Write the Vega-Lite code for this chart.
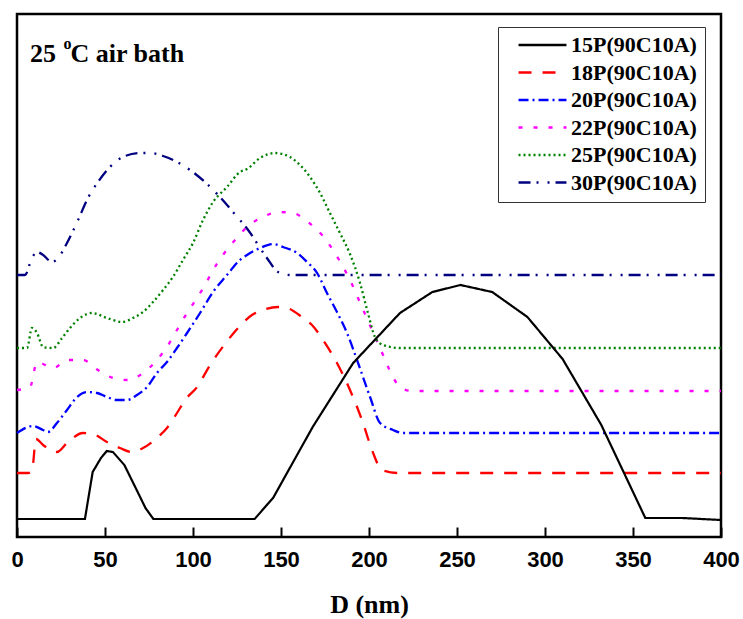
{
  "$schema": "https://vega.github.io/schema/vega-lite/v6.json",
  "width": 704,
  "height": 523,
  "autosize": {"type": "none"},
  "padding": {"left": 17, "top": 14, "right": 22, "bottom": 82},
  "background": "white",
  "config": {
    "view": {"stroke": "black", "strokeWidth": 2.5},
    "axis": {"grid": false}
  },
  "datasets": {
    "curves": [
      {"s": "15P(90C10A)", "D": 0, "v": 18}, {"s": "15P(90C10A)", "D": 38.6, "v": 18}, {"s": "15P(90C10A)", "D": 43, "v": 65}, {"s": "15P(90C10A)", "D": 47.7, "v": 79}, {"s": "15P(90C10A)", "D": 51, "v": 86}, {"s": "15P(90C10A)", "D": 54.5, "v": 85}, {"s": "15P(90C10A)", "D": 61, "v": 72}, {"s": "15P(90C10A)", "D": 68, "v": 47}, {"s": "15P(90C10A)", "D": 73, "v": 29}, {"s": "15P(90C10A)", "D": 77.5, "v": 18}, {"s": "15P(90C10A)", "D": 135, "v": 18}, {"s": "15P(90C10A)", "D": 145.5, "v": 39}, {"s": "15P(90C10A)", "D": 168, "v": 110}, {"s": "15P(90C10A)", "D": 191, "v": 174}, {"s": "15P(90C10A)", "D": 217.6, "v": 224}, {"s": "15P(90C10A)", "D": 236, "v": 245}, {"s": "15P(90C10A)", "D": 252, "v": 252}, {"s": "15P(90C10A)", "D": 270, "v": 245}, {"s": "15P(90C10A)", "D": 290, "v": 220}, {"s": "15P(90C10A)", "D": 310, "v": 178}, {"s": "15P(90C10A)", "D": 332, "v": 112}, {"s": "15P(90C10A)", "D": 357, "v": 19}, {"s": "15P(90C10A)", "D": 378, "v": 19}, {"s": "15P(90C10A)", "D": 400, "v": 17},

      {"s": "18P(90C10A)", "D": 0, "v": 64}, {"s": "18P(90C10A)", "D": 6.3, "v": 64}, {"s": "18P(90C10A)", "D": 8.5, "v": 66}, {"s": "18P(90C10A)", "D": 10.8, "v": 98}, {"s": "18P(90C10A)", "D": 14.8, "v": 92}, {"s": "18P(90C10A)", "D": 22.7, "v": 85}, {"s": "18P(90C10A)", "D": 28.4, "v": 94}, {"s": "18P(90C10A)", "D": 37.5, "v": 104}, {"s": "18P(90C10A)", "D": 43.2, "v": 103}, {"s": "18P(90C10A)", "D": 51.1, "v": 95}, {"s": "18P(90C10A)", "D": 58.5, "v": 89}, {"s": "18P(90C10A)", "D": 65.3, "v": 85}, {"s": "18P(90C10A)", "D": 71.6, "v": 89}, {"s": "18P(90C10A)", "D": 79.5, "v": 99}, {"s": "18P(90C10A)", "D": 85.2, "v": 109}, {"s": "18P(90C10A)", "D": 90.9, "v": 124}, {"s": "18P(90C10A)", "D": 95.5, "v": 137}, {"s": "18P(90C10A)", "D": 102.3, "v": 150}, {"s": "18P(90C10A)", "D": 109.7, "v": 172}, {"s": "18P(90C10A)", "D": 119.9, "v": 197}, {"s": "18P(90C10A)", "D": 125.6, "v": 209}, {"s": "18P(90C10A)", "D": 133.5, "v": 222}, {"s": "18P(90C10A)", "D": 139.8, "v": 227}, {"s": "18P(90C10A)", "D": 148.3, "v": 230}, {"s": "18P(90C10A)", "D": 153.4, "v": 229}, {"s": "18P(90C10A)", "D": 161.9, "v": 220}, {"s": "18P(90C10A)", "D": 167.6, "v": 212}, {"s": "18P(90C10A)", "D": 173.9, "v": 197}, {"s": "18P(90C10A)", "D": 181.8, "v": 174}, {"s": "18P(90C10A)", "D": 189.2, "v": 147}, {"s": "18P(90C10A)", "D": 196.6, "v": 114}, {"s": "18P(90C10A)", "D": 201.7, "v": 87}, {"s": "18P(90C10A)", "D": 207.4, "v": 67}, {"s": "18P(90C10A)", "D": 215.9, "v": 64}, {"s": "18P(90C10A)", "D": 400, "v": 64},

      {"s": "20P(90C10A)", "D": 0, "v": 104}, {"s": "20P(90C10A)", "D": 9.1, "v": 111}, {"s": "20P(90C10A)", "D": 14.8, "v": 107}, {"s": "20P(90C10A)", "D": 17.6, "v": 105}, {"s": "20P(90C10A)", "D": 22.7, "v": 114}, {"s": "20P(90C10A)", "D": 28.4, "v": 127}, {"s": "20P(90C10A)", "D": 34.1, "v": 140}, {"s": "20P(90C10A)", "D": 39.8, "v": 145}, {"s": "20P(90C10A)", "D": 45.5, "v": 144}, {"s": "20P(90C10A)", "D": 51.1, "v": 140}, {"s": "20P(90C10A)", "D": 56.8, "v": 137}, {"s": "20P(90C10A)", "D": 62.5, "v": 137}, {"s": "20P(90C10A)", "D": 68.2, "v": 142}, {"s": "20P(90C10A)", "D": 73.9, "v": 150}, {"s": "20P(90C10A)", "D": 79.5, "v": 164}, {"s": "20P(90C10A)", "D": 85.2, "v": 175}, {"s": "20P(90C10A)", "D": 90.9, "v": 189}, {"s": "20P(90C10A)", "D": 96.6, "v": 204}, {"s": "20P(90C10A)", "D": 104, "v": 224}, {"s": "20P(90C10A)", "D": 111.4, "v": 245}, {"s": "20P(90C10A)", "D": 119.3, "v": 262}, {"s": "20P(90C10A)", "D": 126.7, "v": 277}, {"s": "20P(90C10A)", "D": 130.7, "v": 282}, {"s": "20P(90C10A)", "D": 138.1, "v": 289}, {"s": "20P(90C10A)", "D": 145.5, "v": 293}, {"s": "20P(90C10A)", "D": 151.1, "v": 290}, {"s": "20P(90C10A)", "D": 159.1, "v": 284}, {"s": "20P(90C10A)", "D": 164.8, "v": 275}, {"s": "20P(90C10A)", "D": 170.5, "v": 264}, {"s": "20P(90C10A)", "D": 176.1, "v": 244}, {"s": "20P(90C10A)", "D": 181.8, "v": 225}, {"s": "20P(90C10A)", "D": 187.5, "v": 204}, {"s": "20P(90C10A)", "D": 193.8, "v": 174}, {"s": "20P(90C10A)", "D": 200.6, "v": 140}, {"s": "20P(90C10A)", "D": 206.3, "v": 114}, {"s": "20P(90C10A)", "D": 213.6, "v": 107}, {"s": "20P(90C10A)", "D": 219.3, "v": 104}, {"s": "20P(90C10A)", "D": 400, "v": 104},

      {"s": "22P(90C10A)", "D": 0, "v": 147}, {"s": "22P(90C10A)", "D": 7.4, "v": 150}, {"s": "22P(90C10A)", "D": 11.4, "v": 175}, {"s": "22P(90C10A)", "D": 20.5, "v": 169}, {"s": "22P(90C10A)", "D": 29, "v": 177}, {"s": "22P(90C10A)", "D": 37.5, "v": 177}, {"s": "22P(90C10A)", "D": 46, "v": 167}, {"s": "22P(90C10A)", "D": 54.5, "v": 159}, {"s": "22P(90C10A)", "D": 63.1, "v": 157}, {"s": "22P(90C10A)", "D": 71.6, "v": 164}, {"s": "22P(90C10A)", "D": 79.5, "v": 177}, {"s": "22P(90C10A)", "D": 85.2, "v": 190}, {"s": "22P(90C10A)", "D": 90.9, "v": 207}, {"s": "22P(90C10A)", "D": 96.6, "v": 224}, {"s": "22P(90C10A)", "D": 102.3, "v": 239}, {"s": "22P(90C10A)", "D": 106.8, "v": 252}, {"s": "22P(90C10A)", "D": 111.4, "v": 267}, {"s": "22P(90C10A)", "D": 117, "v": 282}, {"s": "22P(90C10A)", "D": 123.9, "v": 297}, {"s": "22P(90C10A)", "D": 131.3, "v": 311}, {"s": "22P(90C10A)", "D": 139.8, "v": 320}, {"s": "22P(90C10A)", "D": 148.3, "v": 325}, {"s": "22P(90C10A)", "D": 156.8, "v": 324}, {"s": "22P(90C10A)", "D": 165.3, "v": 315}, {"s": "22P(90C10A)", "D": 173.3, "v": 302}, {"s": "22P(90C10A)", "D": 179.5, "v": 287}, {"s": "22P(90C10A)", "D": 184.7, "v": 272}, {"s": "22P(90C10A)", "D": 189.2, "v": 257}, {"s": "22P(90C10A)", "D": 196, "v": 230}, {"s": "22P(90C10A)", "D": 201.7, "v": 207}, {"s": "22P(90C10A)", "D": 208, "v": 182}, {"s": "22P(90C10A)", "D": 213.6, "v": 160}, {"s": "22P(90C10A)", "D": 217.6, "v": 150}, {"s": "22P(90C10A)", "D": 224.4, "v": 146}, {"s": "22P(90C10A)", "D": 400, "v": 146},

      {"s": "25P(90C10A)", "D": 0, "v": 189}, {"s": "25P(90C10A)", "D": 5.7, "v": 189}, {"s": "25P(90C10A)", "D": 8.5, "v": 209}, {"s": "25P(90C10A)", "D": 11.4, "v": 204}, {"s": "25P(90C10A)", "D": 14.8, "v": 190}, {"s": "25P(90C10A)", "D": 20.5, "v": 189}, {"s": "25P(90C10A)", "D": 25.6, "v": 199}, {"s": "25P(90C10A)", "D": 30.1, "v": 209}, {"s": "25P(90C10A)", "D": 35.8, "v": 219}, {"s": "25P(90C10A)", "D": 42.6, "v": 224}, {"s": "25P(90C10A)", "D": 51.1, "v": 219}, {"s": "25P(90C10A)", "D": 59.7, "v": 215}, {"s": "25P(90C10A)", "D": 65.9, "v": 219}, {"s": "25P(90C10A)", "D": 71.6, "v": 225}, {"s": "25P(90C10A)", "D": 77.3, "v": 235}, {"s": "25P(90C10A)", "D": 83, "v": 247}, {"s": "25P(90C10A)", "D": 88.6, "v": 260}, {"s": "25P(90C10A)", "D": 94.3, "v": 277}, {"s": "25P(90C10A)", "D": 100, "v": 294}, {"s": "25P(90C10A)", "D": 105.7, "v": 317}, {"s": "25P(90C10A)", "D": 111.4, "v": 335}, {"s": "25P(90C10A)", "D": 119.3, "v": 350}, {"s": "25P(90C10A)", "D": 126.7, "v": 365}, {"s": "25P(90C10A)", "D": 130.7, "v": 368}, {"s": "25P(90C10A)", "D": 138.1, "v": 379}, {"s": "25P(90C10A)", "D": 146.6, "v": 384}, {"s": "25P(90C10A)", "D": 155.1, "v": 380}, {"s": "25P(90C10A)", "D": 160.8, "v": 372}, {"s": "25P(90C10A)", "D": 166.5, "v": 360}, {"s": "25P(90C10A)", "D": 172.2, "v": 344}, {"s": "25P(90C10A)", "D": 177.8, "v": 324}, {"s": "25P(90C10A)", "D": 183.5, "v": 304}, {"s": "25P(90C10A)", "D": 189.2, "v": 283}, {"s": "25P(90C10A)", "D": 194.9, "v": 254}, {"s": "25P(90C10A)", "D": 199.4, "v": 224}, {"s": "25P(90C10A)", "D": 203.4, "v": 200}, {"s": "25P(90C10A)", "D": 208, "v": 192}, {"s": "25P(90C10A)", "D": 217.6, "v": 189}, {"s": "25P(90C10A)", "D": 400, "v": 189},

      {"s": "30P(90C10A)", "D": 0, "v": 262}, {"s": "30P(90C10A)", "D": 4.5, "v": 262}, {"s": "30P(90C10A)", "D": 8.5, "v": 279}, {"s": "30P(90C10A)", "D": 11.4, "v": 285}, {"s": "30P(90C10A)", "D": 14.8, "v": 282}, {"s": "30P(90C10A)", "D": 19.9, "v": 275}, {"s": "30P(90C10A)", "D": 23.3, "v": 279}, {"s": "30P(90C10A)", "D": 28.4, "v": 294}, {"s": "30P(90C10A)", "D": 34.7, "v": 317}, {"s": "30P(90C10A)", "D": 40.3, "v": 339}, {"s": "30P(90C10A)", "D": 46, "v": 355}, {"s": "30P(90C10A)", "D": 52.8, "v": 370}, {"s": "30P(90C10A)", "D": 60.2, "v": 380}, {"s": "30P(90C10A)", "D": 69.9, "v": 384}, {"s": "30P(90C10A)", "D": 75.6, "v": 384}, {"s": "30P(90C10A)", "D": 83, "v": 381}, {"s": "30P(90C10A)", "D": 90.9, "v": 375}, {"s": "30P(90C10A)", "D": 98.3, "v": 367}, {"s": "30P(90C10A)", "D": 106.8, "v": 355}, {"s": "30P(90C10A)", "D": 115.3, "v": 340}, {"s": "30P(90C10A)", "D": 122.7, "v": 325}, {"s": "30P(90C10A)", "D": 131.3, "v": 307}, {"s": "30P(90C10A)", "D": 142, "v": 279}, {"s": "30P(90C10A)", "D": 148.3, "v": 265}, {"s": "30P(90C10A)", "D": 155.1, "v": 262}, {"s": "30P(90C10A)", "D": 400, "v": 262}
    ],
    "labels": [
      {"part": "main1", "t": "25", "D": 7.4, "v": 475},
      {"part": "sup", "t": "o", "D": 26.4, "v": 488},
      {"part": "main2", "t": "C air bath", "D": 30.4, "v": 475}
    ]
  },
  "encoding": {
    "x": {
      "field": "D", "type": "quantitative",
      "scale": {"domain": [0, 400], "nice": false},
      "axis": {
        "values": [0, 50, 100, 150, 200, 250, 300, 350, 400],
        "domain": false,
        "tickSize": -10,
        "tickWidth": 2,
        "tickColor": "black",
        "labelFont": "Liberation Sans",
        "labelFontWeight": "bold",
        "labelFontSize": 22,
        "labelColor": "black",
        "labelPadding": 22,
        "labelFlush": false,
        "title": "D (nm)",
        "titleFont": "Liberation Serif",
        "titleFontWeight": "bold",
        "titleFontSize": 26,
        "titleColor": "black",
        "titlePadding": 21
      }
    },
    "y": {
      "field": "v", "type": "quantitative",
      "scale": {"domain": [0, 523], "nice": false},
      "axis": null
    }
  },
  "layer": [
    {
      "data": {"name": "curves"},
      "transform": [{"filter": "datum.s !== '15P(90C10A)'"}],
      "mark": {"type": "line", "strokeWidth": 2.3, "interpolate": "monotone"},
      "encoding": {
        "color": {
          "field": "s", "type": "nominal",
          "scale": {
            "domain": ["15P(90C10A)", "18P(90C10A)", "20P(90C10A)", "22P(90C10A)", "25P(90C10A)", "30P(90C10A)"],
            "range": ["#000000", "#FF0000", "#0000FF", "#FF00FF", "#008000", "#000080"]
          },
          "legend": {
            "title": null,
            "orient": "none",
            "legendX": 481,
            "legendY": 13,
            "strokeColor": "#333333",
            "fillColor": "white",
            "padding": 8,
            "symbolOffset": 11,
            "symbolType": "stroke",
            "symbolSize": 2300,
            "symbolStrokeWidth": 2.3,
            "clipHeight": 20,
            "labelFont": "Liberation Serif",
            "labelFontWeight": "bold",
            "labelFontSize": 22,
            "labelColor": "black",
            "labelOffset": 3,
            "rowPadding": 5.5,
            "labelLimit": 300
          }
        },
        "strokeDash": {
          "field": "s", "type": "nominal",
          "scale": {
            "domain": ["15P(90C10A)", "18P(90C10A)", "20P(90C10A)", "22P(90C10A)", "25P(90C10A)", "30P(90C10A)"],
            "range": [[1, 0], [13, 11], [10, 4, 2, 4], [4, 11], [2, 3], [12, 6, 2, 9, 2, 6]]
          },
          "legend": {
            "title": null,
            "orient": "none",
            "legendX": 481,
            "legendY": 13
          }
        },
        "order": {"field": "D", "type": "quantitative"}
      }
    },
    {
      "data": {"name": "curves"},
      "transform": [{"filter": "datum.s === '15P(90C10A)'"}],
      "mark": {"type": "line", "strokeWidth": 2.2, "interpolate": "linear"},
      "encoding": {
        "color": {"field": "s", "type": "nominal"},
        "strokeDash": {"field": "s", "type": "nominal"},
        "order": {"field": "D", "type": "quantitative"}
      }
    },
    {
      "data": {"name": "labels"},
      "transform": [{"filter": "datum.part !== 'sup'"}],
      "mark": {"type": "text", "align": "left", "baseline": "alphabetic", "font": "Liberation Serif", "fontWeight": "bold", "fontSize": 26, "color": "black"},
      "encoding": {
        "text": {"field": "t"}
      }
    },
    {
      "data": {"name": "labels"},
      "transform": [{"filter": "datum.part === 'sup'"}],
      "mark": {"type": "text", "align": "left", "baseline": "alphabetic", "font": "Liberation Serif", "fontWeight": "bold", "fontSize": 16, "color": "black"},
      "encoding": {
        "text": {"field": "t"}
      }
    }
  ]
}
